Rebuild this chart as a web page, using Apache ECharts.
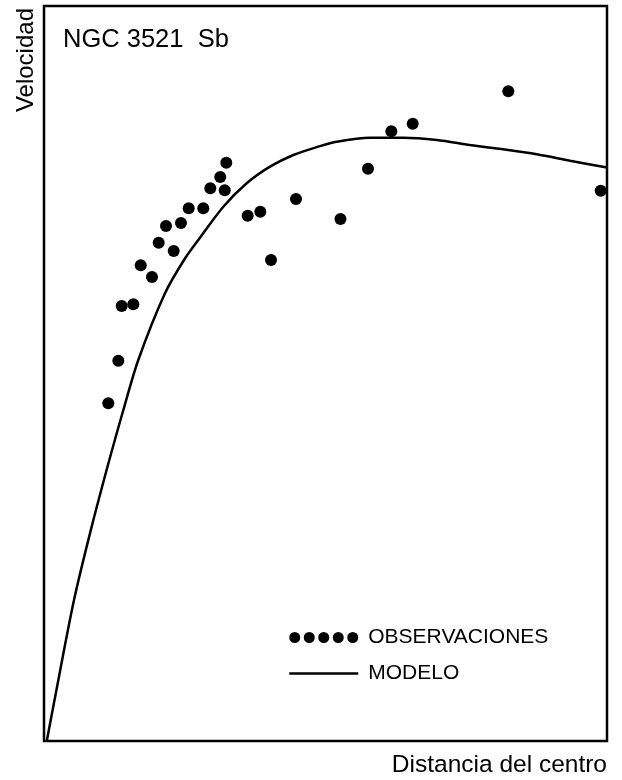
<!DOCTYPE html>
<html>
<head>
<meta charset="utf-8">
<script src="https://cdn.jsdelivr.net/npm/echarts@6/dist/echarts.min.js"></script>
<style>
html,body{margin:0;padding:0;background:#fff;}
#chart{width:622px;height:780px;}
</style>
</head>
<body>
<div id="chart"></div>
<script>
// Observations (distance, velocity) in relative units 0-100
var obsX = [11.42, 13.20, 13.80, 15.86, 17.18, 19.18, 20.37, 21.67, 23.04, 24.33, 25.70, 28.29, 29.54, 31.31, 32.10, 32.38, 36.18, 38.42, 40.32, 44.76, 52.66, 57.55, 61.69, 65.49, 82.47, 98.88];
var obsY = [45.95, 51.74, 59.18, 59.41, 64.72, 63.13, 67.80, 70.07, 66.67, 70.48, 72.48, 72.48, 75.20, 76.73, 74.93, 78.68, 71.47, 72.01, 65.44, 73.74, 71.02, 77.86, 82.95, 83.99, 88.39, 74.87];
// Model rotation curve
var modelX = [0.53, 1.87, 5.33, 8.47, 11.60, 14.09, 16.75, 21.49, 24.87, 27.41, 31.85, 36.00, 40.14, 44.28, 48.72, 51.99, 57.90, 63.82, 69.75, 75.67, 81.53, 87.51, 93.43, 100];
var modelY = [0.14, 5.58, 19.18, 29.16, 38.23, 45.03, 51.84, 60.91, 65.44, 68.16, 72.69, 75.88, 78.14, 79.73, 80.86, 81.54, 82.08, 82.08, 81.77, 81.09, 80.50, 79.82, 78.95, 78.03];

var titleText = 'NGC 3521  Sb';
var xName = 'Distancia del centro';
var yName = 'Velocidad';
var obsName = 'OBSERVACIONES';
var modelName = 'MODELO';

var obsData = obsX.map(function (x, i) { return [x, obsY[i]]; });
var modelData = modelX.map(function (x, i) { return [x, modelY[i]]; });

var fiveDots = 'path://M0,5.5a5.5,5.5 0 1,0 11,0a5.5,5.5 0 1,0 -11,0Z' +
  'M14.5,5.5a5.5,5.5 0 1,0 11,0a5.5,5.5 0 1,0 -11,0Z' +
  'M29,5.5a5.5,5.5 0 1,0 11,0a5.5,5.5 0 1,0 -11,0Z' +
  'M43.5,5.5a5.5,5.5 0 1,0 11,0a5.5,5.5 0 1,0 -11,0Z' +
  'M58,5.5a5.5,5.5 0 1,0 11,0a5.5,5.5 0 1,0 -11,0Z';

var chart = echarts.init(document.getElementById('chart'), null, {renderer: 'canvas'});
chart.setOption({
  animation: false,
  backgroundColor: '#fff',
  title: {
    text: titleText,
    left: 63, top: 27, padding: 0,
    textStyle: {fontFamily: 'Liberation Sans', fontWeight: 'normal', fontSize: 25.5, color: '#000'}
  },
  legend: {
    orient: 'vertical',
    left: 288, top: 627, padding: 0,
    itemWidth: 69, itemHeight: 11,
    itemGap: 15,
    textStyle: {fontFamily: 'Liberation Sans', fontSize: 21, color: '#000', lineHeight: 21, padding: [0, 0, 0, 5]},
    data: [
      {name: obsName, icon: fiveDots, itemStyle: {color: '#000', opacity: 1}},
      {name: modelName, itemStyle: {opacity: 0}, lineStyle: {color: '#000', width: 2.5}}
    ]
  },
  grid: {
    left: 44, top: 6, right: 15, bottom: 39,
    show: true, borderColor: '#000', borderWidth: 2.5, backgroundColor: 'transparent'
  },
  xAxis: {
    type: 'value', min: 0, max: 100,
    name: xName, nameLocation: 'end', nameGap: 0,
    nameTextStyle: {fontFamily: 'Liberation Sans', fontSize: 24.5, color: '#000', align: 'right', verticalAlign: 'top', padding: [12, 0, 0, 0]},
    axisLine: {show: false}, axisTick: {show: false}, axisLabel: {show: false}, splitLine: {show: false}
  },
  yAxis: {
    type: 'value', min: 0, max: 100,
    name: yName, nameLocation: 'end', nameGap: -2, nameRotate: 90,
    nameTextStyle: {fontFamily: 'Liberation Sans', fontSize: 24, color: '#000', align: 'right', verticalAlign: 'bottom', padding: [0, 0, 6, 0]},
    axisLine: {show: false}, axisTick: {show: false}, axisLabel: {show: false}, splitLine: {show: false}
  },
  series: [
    {
      name: obsName, type: 'scatter', data: obsData,
      symbol: 'circle', symbolSize: 12,
      itemStyle: {color: '#000', opacity: 1}, z: 3
    },
    {
      name: modelName, type: 'line', data: modelData,
      symbol: 'none', showSymbol: false, smooth: 0.3,
      lineStyle: {color: '#000', width: 2.5}, itemStyle: {color: '#000'}, z: 2
    }
  ]
});
</script>
</body>
</html>
